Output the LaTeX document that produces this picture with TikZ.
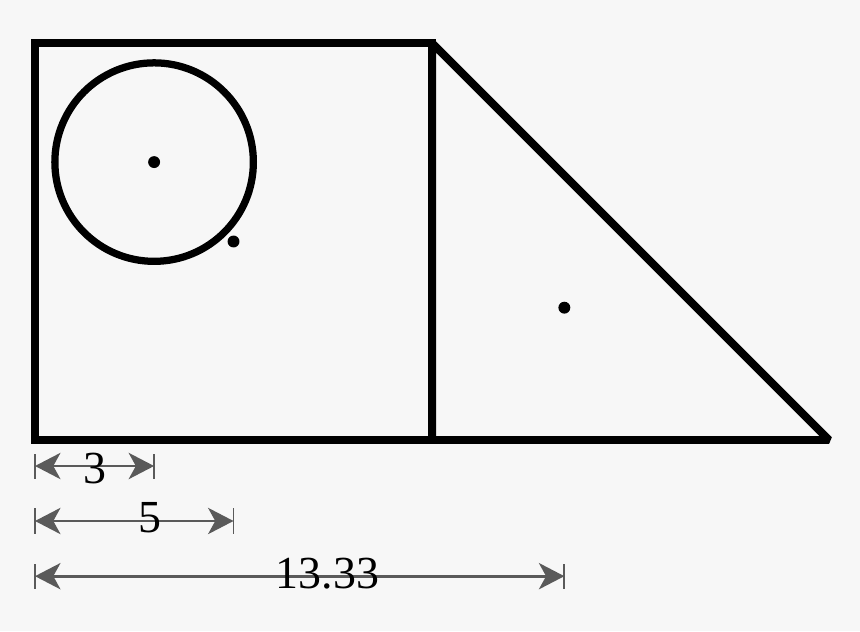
\documentclass[tikz,border=0pt]{standalone}
\usepackage{fontspec}
\setmainfont{Liberation Serif}
\usetikzlibrary{arrows.meta}
\definecolor{bg}{HTML}{F7F7F7}
\definecolor{dimgray}{HTML}{5A5A5A}
\tikzset{
  shape line/.style={line width=5.7pt, line join=miter, miter limit=2},
  circ line/.style={line width=5.2pt},
  dotmark/.style={fill=black},
  dimtip/.tip={Stealth[length=0.64cm,width=0.66cm,inset=0.18cm]},
  dimline/.style={dimgray, line width=2.1pt, dimtip-dimtip},
  dimtick/.style={dimgray, line width=1.3pt},
  dimlabel/.style={anchor=base, inner sep=0pt, font=\fontsize{32.9}{38}\selectfont}
}
\begin{document}
\begin{tikzpicture}
\fill[bg] (-0.882,-4.811) rectangle (20.78,11.083);
\useasboundingbox (-0.882,-4.811) rectangle (20.78,11.083);
% shapes
\coordinate (A) at (0,0);
\coordinate (B) at (10,0);
\coordinate (C) at (10,10);
\coordinate (D) at (0,10);
\coordinate (E) at (20,0);
\draw[shape line] (A) -- (B) -- (C) -- (D) -- cycle;
\draw[shape line] (B) -- (E) -- (C) -- cycle;
\coordinate (O) at (3,7);
\draw[circ line] (O) circle (2.5);
\fill[dotmark] (O) circle (0.15);
\coordinate (P) at (5,5);
\fill[dotmark] (P) circle (0.15);
\coordinate (G) at (13.333,3.333);
\fill[dotmark] (G) circle (0.15);
% dimensions
\coordinate (d1a) at (0,-0.655);
\coordinate (d1b) at (3,-0.655);
\coordinate (d2a) at (0,-2.04);
\coordinate (d2b) at (5,-2.04);
\coordinate (d3a) at (0,-3.43);
\coordinate (d3b) at (13.333,-3.43);
\foreach \p in {d1a,d1b,d2a,d2b,d3a,d3b}{
  \draw[dimtick] ([yshift=-0.315cm]\p) -- ([yshift=0.315cm]\p);
}
\draw[dimline] (d1a) -- (d1b);
\draw[dimline] (d2a) -- (d2b);
\draw[dimline] (d3a) -- (d3b);
\node[dimlabel] (l1) at (1.5,-1.108) {3};
\node[dimlabel] (l2) at (2.9,-2.32) {5};
\node[dimlabel] (l3) at (7.37,-3.75) {13.33};
\end{tikzpicture}
\end{document}
